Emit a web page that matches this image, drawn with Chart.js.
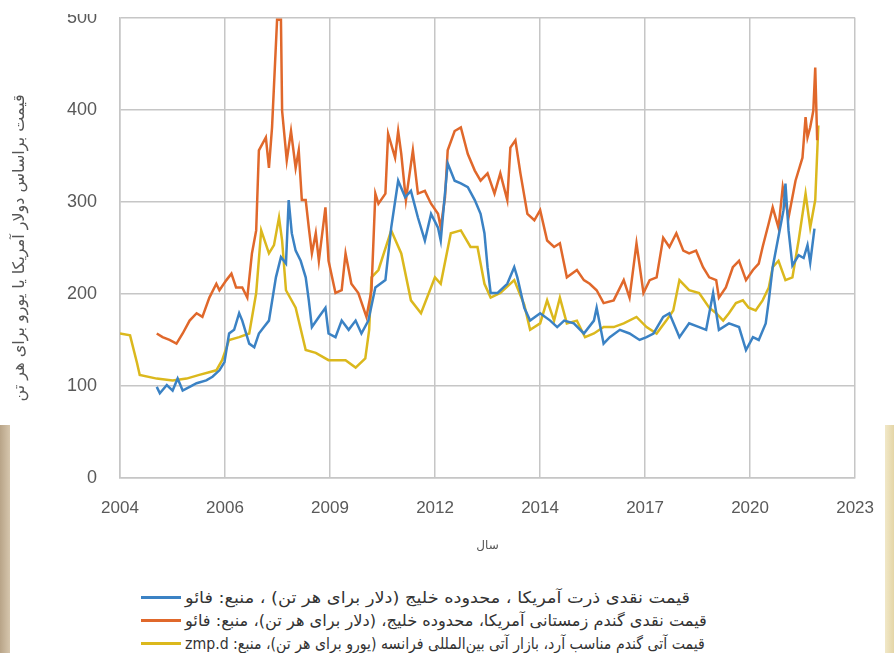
<!DOCTYPE html>
<html lang="fa">
<head>
<meta charset="utf-8">
<title>قیمت ذرت و گندم</title>
<script src="https://cdn.jsdelivr.net/npm/chart.js@4.4.1/dist/chart.umd.min.js"></script>
<style>
  html, body { margin: 0; padding: 0; background: #fff; }
  body { width: 894px; height: 653px; position: relative; overflow: hidden; font-family: 'DejaVu Sans', sans-serif; }
  #wrap { position: absolute; left: 0; top: -16px; width: 894px; height: 586px; }
  #topMask { position: absolute; left: 0; top: 0; width: 894px; height: 14px; background: #fff; }
  .edge { position: absolute; top: 425px; height: 228px; }
  .edge.l { left: 0; width: 10px; background: linear-gradient(to right, #b8a488, #d6c6ad); }
  .edge.r { right: 0; width: 9px; background: linear-gradient(to right, #f1e8c8, #e4d5a6); }
  #legend { position: absolute; left: 141px; top: 586px; }
  .leg-row { display: flex; align-items: center; height: 23px; }
  .leg-line { width: 40px; height: 3px; margin-right: 4px; flex: none; }
  .leg-text { direction: rtl; font-size: 16px; color: #333; white-space: nowrap; display: inline-block; transform-origin: left center; }
</style>
</head>
<body>
<div id="wrap"><canvas id="priceChart"></canvas></div>
<div id="topMask"></div>
<div class="edge l"></div>
<div class="edge r"></div>
<div id="legend"></div>

<script>
// x tick labels (8 evenly spaced ticks between 2004 and 2023)
const xTickLabels = ['2004', '2006', '2009', '2012', '2014', '2017', '2020', '2023'];

// US corn, Gulf (USD/t)
const cornYears = [2004.95, 2005.03, 2005.21, 2005.36, 2005.49, 2005.62, 2005.80, 2005.98, 2006.23, 2006.39,
  2006.57, 2006.70, 2006.82, 2006.95, 2007.08, 2007.16, 2007.34, 2007.47, 2007.59, 2007.72,
  2007.85, 2008.03, 2008.16, 2008.29, 2008.36, 2008.44, 2008.54, 2008.67, 2008.80, 2008.88,
  2008.96, 2009.14, 2009.31, 2009.39, 2009.57, 2009.73, 2009.91, 2010.09, 2010.24, 2010.42,
  2010.60, 2010.86, 2011.01, 2011.19, 2011.37, 2011.52, 2011.70, 2011.88, 2012.04, 2012.22,
  2012.29, 2012.47, 2012.65, 2012.81, 2012.99, 2013.17, 2013.32, 2013.42, 2013.50, 2013.58,
  2013.76, 2014.01, 2014.19, 2014.27, 2014.45, 2014.60, 2014.86, 2015.12, 2015.30, 2015.48,
  2015.73, 2015.99, 2016.25, 2016.32, 2016.50, 2016.66, 2016.92, 2017.17, 2017.43, 2017.61,
  2017.79, 2018.04, 2018.20, 2018.46, 2018.71, 2018.97, 2019.15, 2019.33, 2019.48, 2019.74,
  2020.00, 2020.18, 2020.36, 2020.51, 2020.69, 2020.77, 2020.87, 2020.95, 2021.15, 2021.20,
  2021.28, 2021.38, 2021.54, 2021.67, 2021.77, 2021.84, 2021.95];
const cornPrices = [99, 92, 101, 95, 108, 95, 99, 103, 106, 110,
  117, 126, 157, 161, 179, 171, 146, 142, 157, 164,
  171, 218, 240, 233, 302, 266, 247, 236, 218, 193,
  164, 175, 185, 157, 153, 171, 161, 171, 157, 171,
  207, 215, 272, 323, 305, 312, 283, 258, 287, 272,
  258, 342, 323, 320, 316, 302, 287, 266, 229, 201,
  201, 211, 229, 218, 185, 171, 179, 171, 164, 171,
  168, 157, 171, 185, 146, 153, 161, 157, 150, 153,
  157, 175, 179, 153, 168, 164, 161, 201, 161, 168,
  164, 139, 153, 150, 168, 193, 229, 247, 291, 320,
  269, 231, 242, 239, 253, 234, 271];

// US winter wheat, Gulf (USD/t)
const wheatYears = [2004.95, 2005.10, 2005.28, 2005.46, 2005.62, 2005.80, 2005.98, 2006.13, 2006.31, 2006.49,
  2006.57, 2006.75, 2006.88, 2007.00, 2007.16, 2007.29, 2007.41, 2007.52, 2007.59, 2007.77,
  2007.85, 2007.93, 2008.06, 2008.16, 2008.19, 2008.31, 2008.42, 2008.54, 2008.62, 2008.70,
  2008.80, 2008.88, 2008.96, 2009.06, 2009.14, 2009.31, 2009.39, 2009.57, 2009.73, 2009.83,
  2009.98, 2010.16, 2010.37, 2010.50, 2010.60, 2010.68, 2010.86, 2010.93, 2011.11, 2011.19,
  2011.27, 2011.39, 2011.57, 2011.70, 2011.88, 2012.04, 2012.22, 2012.29, 2012.40, 2012.47,
  2012.65, 2012.81, 2012.99, 2013.17, 2013.32, 2013.50, 2013.68, 2013.83, 2014.01, 2014.09,
  2014.22, 2014.35, 2014.53, 2014.71, 2014.86, 2015.04, 2015.22, 2015.37, 2015.55, 2015.81,
  2015.99, 2016.14, 2016.32, 2016.50, 2016.76, 2017.02, 2017.17, 2017.35, 2017.53, 2017.69,
  2017.87, 2018.04, 2018.20, 2018.38, 2018.56, 2018.71, 2018.89, 2019.07, 2019.23, 2019.41,
  2019.48, 2019.66, 2019.84, 2020.00, 2020.18, 2020.36, 2020.51, 2020.61, 2020.77, 2020.87,
  2021.02, 2021.13, 2021.28, 2021.46, 2021.64, 2021.72, 2021.77, 2021.84, 2021.92, 2021.97,
  2022.02];
const wheatPrices = [157, 153, 150, 146, 157, 171, 179, 175, 196, 211,
  204, 215, 222, 207, 207, 196, 244, 269, 356, 370,
  337, 381, 498, 498, 399, 345, 377, 337, 356, 302,
  302, 272, 244, 266, 236, 294, 236, 201, 204, 244,
  211, 201, 175, 204, 309, 298, 309, 374, 348, 377,
  352, 302, 356, 309, 312, 298, 287, 272, 305, 356,
  377, 381, 352, 334, 323, 331, 309, 331, 302, 359,
  367, 331, 287, 280, 291, 258, 251, 255, 218, 226,
  215, 211, 204, 190, 193, 215, 196, 255, 201, 215,
  218, 261, 251, 266, 247, 244, 247, 229, 218, 215,
  196, 207, 229, 236, 215, 226, 233, 251, 277, 294,
  272, 316, 283, 323, 348, 392, 370, 381, 399, 446,
  367];

// Milling wheat futures, France (EUR/t)
const franceYears = [2004.00, 2004.26, 2004.44, 2004.51, 2004.95, 2005.36, 2005.72, 2006.05, 2006.49, 2006.64,
  2006.82, 2007.08, 2007.34, 2007.52, 2007.65, 2007.85, 2007.98, 2008.11, 2008.19, 2008.29,
  2008.54, 2008.80, 2009.06, 2009.39, 2009.83, 2010.09, 2010.34, 2010.44, 2010.50, 2010.68,
  2011.01, 2011.27, 2011.52, 2011.78, 2012.14, 2012.29, 2012.55, 2012.81, 2013.06, 2013.24,
  2013.42, 2013.58, 2013.83, 2014.19, 2014.45, 2014.60, 2014.86, 2015.04, 2015.22, 2015.37,
  2015.55, 2015.81, 2016.02, 2016.25, 2016.50, 2016.76, 2017.02, 2017.35, 2017.61, 2017.87,
  2018.12, 2018.30, 2018.46, 2018.71, 2018.97, 2019.23, 2019.41, 2019.59, 2019.74, 2019.92,
  2020.10, 2020.25, 2020.43, 2020.61, 2020.77, 2020.87, 2021.02, 2021.20, 2021.38, 2021.54,
  2021.72, 2021.84, 2021.97, 2022.05];
const francePrices = [157, 155, 125, 112, 108, 106, 108, 112, 117, 128,
  150, 153, 157, 201, 269, 244, 253, 283, 258, 204,
  185, 139, 136, 128, 128, 120, 130, 161, 218, 226,
  269, 244, 193, 179, 218, 211, 266, 269, 251, 251,
  211, 196, 201, 215, 188, 161, 168, 193, 171, 196,
  168, 171, 153, 157, 164, 164, 168, 175, 164, 157,
  171, 182, 215, 204, 201, 185, 179, 171, 179, 190,
  193, 185, 182, 193, 207, 229, 236, 215, 218, 258,
  309, 272, 302, 383];

const seriesLabels = [
  'قیمت نقدی ذرت آمریکا ، محدوده خلیج (دلار برای هر تن) ، منبع:  فائو',
  'قیمت نقدی گندم زمستانی آمریکا، محدوده خلیج، (دلار برای هر تن)، منبع:  فائو',
  'قیمت آتی گندم مناسب آرد، بازار آتی بین‌المللی فرانسه  (یورو برای هر تن)، منبع: zmp.d'
];
const seriesColors = ['#3b82c4', '#e0682b', '#dbb81d'];
// legend text widths in the picture (px)
const legendWidths = [505, 522, 520];

function toPoints(xs, ys) {
  return xs.map((x, i) => ({ x: x, y: ys[i] }));
}

const gridColor = '#c6c6c6';
const tickColor = '#595959';

const chart = new Chart(document.getElementById('priceChart'), {
  type: 'line',
  data: {
    datasets: [
      { label: seriesLabels[0], data: toPoints(cornYears, cornPrices), borderColor: seriesColors[0] },
      { label: seriesLabels[1], data: toPoints(wheatYears, wheatPrices), borderColor: seriesColors[1] },
      { label: seriesLabels[2], data: toPoints(franceYears, francePrices), borderColor: seriesColors[2] }
    ]
  },
  options: {
    responsive: true, maintainAspectRatio: false, animation: false,
    layout: { padding: { left: 0, right: 34, top: 1, bottom: 0 } },
    elements: {
      line: { borderWidth: 2.5, tension: 0, fill: false },
      point: { radius: 0, hoverRadius: 0 }
    },
    plugins: { legend: { display: false }, tooltip: { enabled: false } },
    scales: {
      x: {
        type: 'linear', min: 2004, max: 2023,
        afterBuildTicks: s => { s.ticks = xTickLabels.map((t, i) => ({ value: 2004 + i * 19 / 7 })); },
        afterFit: s => { s.height = 92; },
        grid: { color: gridColor, lineWidth: 1.5, drawTicks: false },
        border: { color: gridColor, width: 1.5 },
        ticks: {
          autoSkip: false, maxRotation: 0, padding: 20,
          font: { family: "'Liberation Sans Narrow', 'Liberation Sans', sans-serif", size: 17 }, color: tickColor,
          callback: (v, i) => xTickLabels[i]
        },
        title: {
          display: true, text: 'سال', color: '#555',
          font: { family: "'DejaVu Sans', sans-serif", size: 12 },
          padding: { top: 0, bottom: 17 }
        }
      },
      y: {
        min: 0, max: 500,
        afterFit: s => { s.width = 120; },
        grid: { color: gridColor, lineWidth: 1.5, drawTicks: false },
        border: { color: gridColor, width: 1.5 },
        ticks: {
          stepSize: 100, padding: 23,
          font: { family: "'Liberation Sans Narrow', 'Liberation Sans', sans-serif", size: 18 }, color: tickColor
        },
        title: {
          display: true, text: 'قیمت براساس دولار آمریکا یا یورو برای هر تن', color: '#555',
          font: { family: "'DejaVu Sans', sans-serif", size: 16 },
          padding: { top: 10, bottom: 0 }
        }
      }
    }
  }
});

// legend: line sample on the left, Persian text after it
const legendBox = document.getElementById('legend');
chart.data.datasets.forEach((ds, i) => {
  const row = document.createElement('div');
  row.className = 'leg-row';
  const line = document.createElement('span');
  line.className = 'leg-line';
  line.style.background = ds.borderColor;
  const txt = document.createElement('span');
  txt.className = 'leg-text';
  txt.textContent = ds.label;
  row.appendChild(line);
  row.appendChild(txt);
  legendBox.appendChild(row);
  const w = txt.getBoundingClientRect().width;
  txt.style.transform = 'scaleX(' + (legendWidths[i] / w).toFixed(3) + ')';
});
</script>
</body>
</html>
